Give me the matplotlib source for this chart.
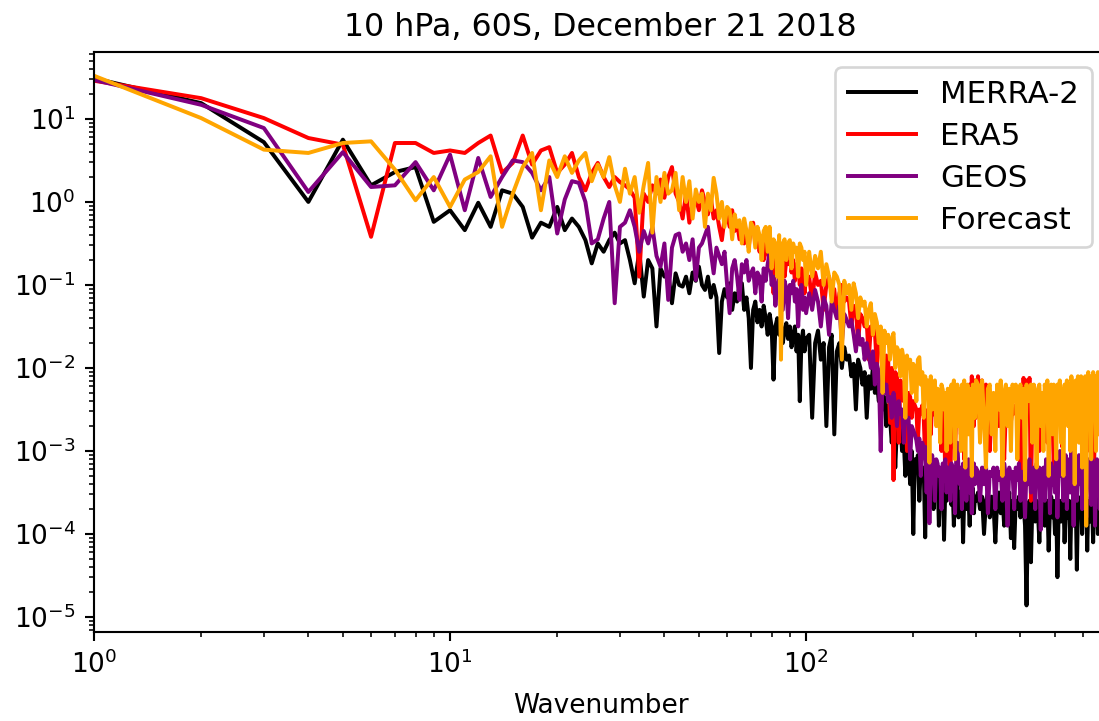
import numpy as np
import matplotlib
matplotlib.use("Agg")
import matplotlib.pyplot as plt

# Zonal wavenumbers: every integer to 100, then every 2nd to 300, then every 4th to 700
wavenumber = np.concatenate([np.arange(1, 101), np.arange(102, 301, 2), np.arange(304, 701, 4)])

# Spectral power, stored as log10 values
merra2_log10 = [
    # k = 1..100
    1.49, 1.19, 0.72, 0.0, 0.75, 0.2, 0.36, 0.42, -0.24, -0.1,
    -0.34, -0.01, -0.3, 0.14, 0.1, -0.06, -0.43, -0.25, -0.3, -0.06,
    -0.34, -0.2, -0.3, -0.46, -0.74, -0.5, -0.6, -0.46, -0.37, -0.5,
    -0.46, -0.7, -0.98, -0.6, -1.14, -0.7, -0.8, -1.5, -0.8, -0.9,
    -0.85, -1.22, -0.86, -1.0, -1.02, -0.9, -1.1, -0.85, -0.95, -0.78,
    -1.0, -1.06, -0.9, -1.15, -1.0, -1.15, -1.82, -1.2, -1.05, -1.15,
    -0.98, -1.3, -1.1, -1.2, -1.0, -0.98, -1.3, -1.15, -1.4, -2.0,
    -1.3, -1.2, -1.45, -1.3, -1.5, -1.25, -1.4, -1.6, -1.35, -1.5,
    -2.14, -1.5, -1.4, -1.6, -1.45, -1.7, -1.55, -1.46, -1.65, -1.5,
    -1.75, -1.6, -1.5, -1.8, -1.6, -2.4, -1.7, -1.55, -1.8, -1.65,
    # k = 102..300
    -1.6, -2.6, -1.7, -1.55, -1.9, -1.7, -2.7, -1.75, -1.6, -2.8,
    -1.8, -1.7, -2.0, -1.75, -1.9, -1.85, -2.1, -1.95, -2.5, -1.9,
    -2.0, -2.2, -2.05, -2.6, -2.1, -2.25, -2.0, -2.3, -2.15, -2.4,
    -2.3, -2.5, -2.35, -2.7, -2.45, -2.6, -2.9, -2.55, -3.2, -2.7,
    -2.8, -2.65, -3.0, -2.85, -3.3, -2.9, -3.05, -3.4, -3.0, -4.0,
    -3.1, -3.2, -3.05, -3.6, -3.15, -3.3, -3.2, -4.04, -3.25, -3.4,
    -3.3, -3.5, -3.25, -3.7, -3.35, -3.45, -3.3, -3.9, -3.4, -3.5,
    -3.35, -4.07, -3.45, -3.6, -3.4, -3.5, -3.4, -3.65, -3.45, -3.9,
    -3.5, -3.55, -3.4, -3.8, -3.5, -3.6, -3.45, -4.1, -3.55, -3.5,
    -3.7, -3.45, -3.6, -3.9, -3.5, -3.65, -3.45, -3.75, -3.55, -3.6,
    # k = 304..700
    -3.5, -3.7, -3.55, -4.0, -3.6, -3.5, -3.8, -3.55, -3.65, -4.1,
    -3.6, -3.5, -3.75, -3.55, -3.9, -3.6, -3.7, -3.5, -4.05, -3.6,
    -4.17, -3.6, -3.7, -3.55, -3.8, -3.6, -3.65, -3.9, -4.86, -3.7,
    -3.6, -4.34, -3.65, -3.55, -3.85, -3.6, -3.75, -4.1, -3.6, -3.7,
    -3.55, -3.9, -3.65, -3.6, -4.2, -3.7, -3.55, -3.8, -3.6, -4.0,
    -3.65, -4.52, -3.7, -3.6, -3.85, -3.65, -3.55, -4.1, -3.7, -3.6,
    -3.8, -3.6, -4.3, -3.65, -3.7, -3.55, -3.9, -3.6, -4.43, -3.7,
    -3.6, -3.75, -3.55, -4.0, -3.65, -3.6, -3.8, -3.55, -4.2, -3.65,
    -3.6, -3.85, -3.55, -3.7, -4.1, -3.6, -3.5, -3.75, -3.6, -4.0,
    -3.55, -3.7, -3.6, -4.3, -3.65, -3.5, -3.8, -3.6, -3.7, -3.55,
]

era5_log10 = [
    # k = 1..100
    1.46, 1.25, 1.01, 0.77, 0.69, -0.42, 0.71, 0.71, 0.59, 0.62,
    0.59, 0.71, 0.8, 0.35, 0.47, 0.8, 0.45, 0.62, 0.66, 0.35,
    0.45, 0.59, 0.3, 0.14, 0.35, 0.47, 0.3, 0.18, 0.3, 0.24,
    0.2, 0.15, 0.05, -0.9, 0.1, 0.0, 0.2, 0.1, 0.27, 0.05,
    0.3, 0.42, 0.1, 0.0, -0.2, 0.1, -0.25, 0.0, 0.05, -0.1,
    0.14, 0.0, -0.15, 0.05, -0.2, -0.1, -0.3, -0.46, -0.2, -0.15,
    -0.3, -0.1, -0.35, -0.25, -0.45, -0.3, -0.5, -0.35, -0.55, -0.3,
    -0.25, -0.5, -0.4, -0.6, -0.45, -0.7, -0.5, -0.6, -0.75, -0.55,
    -1.1, -0.6, -0.7, -0.55, -0.8, -0.65, -0.9, -0.7, -0.75, -0.6,
    -0.85, -0.7, -0.95, -0.75, -0.8, -1.0, -0.8, -0.85, -1.1, -0.9,
    # k = 102..300
    -0.9, -1.2, -0.85, -1.0, -0.95, -1.3, -1.0, -0.9, -1.1, -1.05,
    -1.4, -1.1, -1.0, -1.2, -1.15, -1.2, -1.5, -1.25, -1.3, -1.7,
    -1.35, -1.4, -1.5, -1.45, -1.9, -1.5, -1.6, -1.55, -2.0, -1.7,
    -1.75, -1.8, -2.2, -1.85, -1.9, -2.66, -2.0, -3.35, -2.05, -2.1,
    -2.9, -2.15, -2.2, -2.4, -2.25, -3.0, -2.3, -2.35, -2.6, -2.4,
    -2.45, -2.5, -2.9, -2.5, -2.55, -2.45, -2.6, -3.1, -2.55, -2.5,
    -2.6, -2.8, -2.4, -2.27, -2.55, -2.6, -2.27, -2.7, -2.6, -3.0,
    -2.55, -2.5, -3.35, -2.6, -2.55, -2.6, -3.5, -2.55, -2.6, -2.7,
    -3.0, -2.55, -2.6, -2.65, -2.5, -2.8, -2.55, -2.6, -3.1, -2.5,
    -2.4, -2.3, -2.55, -2.2, -2.6, -2.1, -2.5, -2.7, -2.15, -2.6,
    # k = 304..700
    -2.1, -2.5, -2.15, -2.6, -2.2, -2.55, -3.0, -2.5, -2.6, -2.45,
    -2.5, -2.7, -2.45, -2.55, -3.1, -2.5, -2.6, -2.45, -2.65, -2.5,
    -2.55, -2.45, -2.6, -2.5, -3.4, -2.55, -2.12, -2.4, -2.15, -2.5,
    -2.12, -3.6, -2.5, -2.55, -2.45, -2.6, -2.5, -3.0, -2.55, -2.45,
    -2.6, -2.5, -2.55, -2.9, -2.45, -2.6, -2.5, -2.55, -3.2, -2.5,
    -2.45, -2.6, -2.5, -2.55, -2.45, -2.95, -2.5, -2.6, -2.45, -2.5,
    -2.55, -2.4, -2.6, -3.1, -2.5, -2.45, -2.55, -2.5, -2.6, -2.4,
    -2.5, -2.55, -2.9, -2.45, -2.5, -2.6, -2.4, -2.5, -3.0, -2.45,
    -2.5, -2.4, -2.55, -2.5, -2.45, -3.2, -2.5, -2.4, -2.55, -2.45,
    -2.4, -2.5, -2.45, -2.9, -2.4, -2.5, -2.35, -2.45, -2.5, -2.4,
]

geos_log10 = [
    # k = 1..100
    1.47, 1.17, 0.89, 0.12, 0.6, 0.18, 0.2, 0.48, 0.14, 0.57,
    -0.1, 0.53, 0.06, 0.3, 0.5, 0.48, 0.35, 0.14, 0.3, -0.38,
    0.03, 0.25, 0.23, 0.0, -0.5, -0.45, -0.2, 0.0, -1.22, -0.3,
    -0.25, -0.1, -0.3, -0.6, -0.35, -0.5, -0.3, -0.65, -0.78, -0.5,
    -1.18, -0.55, -0.4, -0.38, -0.6, -0.5, -0.7, -0.45, -0.94, -0.55,
    -0.5, -0.4, -0.3, -0.6, -0.86, -0.55, -0.65, -0.75, -0.6, -1.0,
    -1.34, -0.8, -0.7, -0.9, -1.18, -0.75, -0.85, -0.7, -0.95, -0.86,
    -0.8, -1.1, -0.85, -0.9, -1.2, -0.8, -0.95, -0.75, -0.61, -1.0,
    -0.9, -1.25, -1.0, -0.9, -1.1, -1.3, -0.95, -1.05, -1.4, -1.0,
    -1.1, -0.95, -1.2, -1.05, -1.5, -1.1, -1.0, -1.3, -1.15, -1.34,
    # k = 102..300
    -1.1, -1.3, -1.06, -1.2, -1.5, -1.15, -1.25, -1.6, -1.2, -1.3,
    -1.4, -1.25, -1.7, -1.35, -1.42, -1.5, -1.42, -1.6, -1.8, -1.55,
    -1.72, -1.65, -1.9, -1.7, -1.85, -2.0, -1.8, -2.2, -1.95, -2.05,
    -3.0, -2.1, -2.3, -2.2, -2.4, -2.35, -2.6, -2.3, -2.45, -2.7,
    -2.4, -2.55, -2.5, -2.9, -2.55, -2.65, -2.6, -3.1, -2.7, -2.75,
    -2.8, -2.87, -3.0, -2.85, -3.3, -2.9, -3.0, -2.95, -3.5, -3.0,
    -3.87, -3.1, -3.05, -3.2, -3.6, -3.1, -3.15, -3.3, -3.2, -3.7,
    -3.15, -3.25, -3.1, -3.5, -3.2, -3.2, -3.6, -3.15, -3.3, -3.2,
    -3.75, -3.1, -2.9, -3.25, -3.4, -3.2, -3.7, -3.15, -3.3, -3.2,
    -3.6, -3.25, -3.1, -3.5, -3.2, -3.75, -3.3, -3.15, -3.4, -3.2,
    # k = 304..700
    -3.25, -3.6, -3.2, -3.4, -3.15, -3.75, -3.25, -3.3, -3.2, -3.7,
    -3.2, -3.35, -3.25, -3.6, -3.15, -3.3, -3.9, -3.2, -3.3, -3.25,
    -3.7, -3.2, -3.35, -3.15, -3.6, -3.25, -3.3, -3.8, -3.2, -3.4,
    -3.1, -3.5, -3.25, -3.2, -3.7, -3.15, -3.3, -3.2, -3.95, -3.25,
    -3.2, -3.6, -3.1, -3.3, -3.2, -3.75, -3.15, -3.4, -3.2, -3.5,
    -3.1, -3.8, -3.2, -3.0, -3.3, -3.15, -3.6, -3.2, -3.05, -3.7,
    -3.2, -3.1, -3.5, -3.0, -3.25, -3.9, -3.1, -3.2, -3.6, -3.15,
    -3.05, -3.4, -3.2, -3.7, -3.1, -3.25, -3.15, -3.8, -3.2, -3.1,
    -3.3, -3.2, -3.65, -3.1, -3.25, -3.15, -3.9, -3.2, -3.1, -3.4,
    -3.2, -3.7, -3.15, -3.25, -3.1, -3.6, -3.2, -3.3, -3.15, -3.5,
]

forecast_log10 = [
    # k = 1..100
    1.52, 1.01, 0.63, 0.59, 0.71, 0.73, 0.39, 0.02, 0.3, -0.06,
    0.27, 0.36, 0.55, -0.3, 0.1, 0.42, 0.59, -0.1, 0.5, 0.3,
    0.55, 0.35, 0.5, 0.59, 0.25, 0.45, 0.3, 0.54, 0.2, 0.0,
    0.4, 0.1, 0.3, -0.13, 0.2, 0.47, -0.37, 0.3, 0.0, 0.35,
    0.1, 0.14, 0.35, -0.1, 0.3, 0.0, 0.25, -0.2, 0.15, 0.0,
    0.1, -0.3, 0.1, -0.1, 0.29, 0.1, -0.2, 0.0, -0.3, -0.06,
    -0.1, -0.45, -0.15, -0.3, -0.22, -0.5, -0.2, -0.35, -0.6, -0.25,
    -0.3, -0.55, -0.3, -0.4, -0.7, -0.35, -0.3, -0.6, -0.3, -0.8,
    -0.45, -0.5, -0.9, -0.4, -1.9, -0.5, -0.45, -0.7, -0.5, -0.46,
    -0.8, -0.5, -0.6, -0.55, -0.9, -0.5, -0.55, -0.7, -0.6, -1.0,
    # k = 102..300
    -0.6, -0.9, -0.65, -0.8, -0.6, -1.0, -0.75, -0.9, -1.2, -0.85,
    -0.9, -1.0, -1.9, -0.95, -1.1, -1.0, -1.3, -0.98, -1.1, -1.4,
    -1.15, -1.25, -1.2, -1.5, -1.3, -1.22, -1.6, -1.35, -1.45, -1.7,
    -1.5, -2.3, -1.55, -1.7, -1.6, -1.9, -1.65, -1.58, -2.0, -1.75,
    -1.8, -2.1, -1.78, -1.9, -2.6, -1.85, -2.0, -1.9, -2.3, -1.95,
    -2.0, -2.4, -1.9, -1.87, -2.2, -2.05, -2.6, -2.1, -2.3, -2.15,
    -3.14, -2.1, -2.5, -2.2, -2.15, -2.7, -2.25, -2.3, -2.9, -2.2,
    -2.26, -2.5, -2.3, -3.0, -2.25, -2.3, -2.9, -2.2, -2.5, -2.15,
    -3.1, -2.3, -2.2, -2.7, -2.25, -3.0, -2.2, -2.4, -2.15, -3.2,
    -2.3, -2.2, -2.8, -2.25, -2.4, -3.3, -2.2, -2.3, -2.6, -2.15,
    # k = 304..700
    -2.2, -2.9, -2.15, -2.6, -3.2, -2.25, -2.2, -2.8, -2.3, -3.0,
    -2.2, -2.5, -2.15, -3.3, -2.3, -2.2, -2.7, -2.25, -3.0, -2.2,
    -2.4, -2.2, -3.1, -2.3, -2.2, -2.6, -2.25, -3.35, -2.2, -2.4,
    -2.3, -2.2, -2.9, -2.2, -2.5, -3.2, -2.25, -2.2, -2.7, -2.3,
    -3.0, -2.2, -2.4, -2.15, -3.3, -2.25, -2.2, -2.8, -2.2, -2.5,
    -3.1, -2.2, -2.3, -2.15, -2.9, -2.25, -3.3, -2.2, -2.4, -2.15,
    -2.7, -2.2, -3.0, -2.1, -2.3, -2.2, -3.4, -2.15, -2.5, -2.1,
    -2.9, -2.2, -2.1, -3.2, -2.15, -2.4, -2.1, -3.9, -2.2, -2.05,
    -2.7, -2.1, -3.1, -2.2, -2.05, -2.5, -2.1, -3.0, -2.15, -2.05,
    -2.8, -2.1, -3.6, -2.0, -2.2, -2.9, -2.05, -2.1, -3.0, -2.0,
]

series = [
    ("MERRA-2", merra2_log10, "black"),
    ("ERA5", era5_log10, "red"),
    ("GEOS", geos_log10, "purple"),
    ("Forecast", forecast_log10, "orange"),
]

DPI = 190
fig = plt.figure(figsize=(1099 / DPI, 721 / DPI), dpi=DPI)
ax = fig.add_axes([94 / 1099, 89 / 721, (1107 - 94) / 1099, (632 - 52) / 721])

for label, logvals, color in series:
    ax.plot(wavenumber, 10.0 ** np.asarray(logvals), color=color, label=label)

ax.set_xscale("log")
ax.set_yscale("log")
ax.set_xlim(1, 700)
ax.set_ylim(6.6e-6, 64)
ax.set_xlabel("Wavenumber", fontsize=10, labelpad=5.5)
ax.set_title("10 hPa, 60S, December 21 2018", fontsize=12)
ax.tick_params(labelsize=10)
ax.legend(loc="upper right", fontsize=11.7, labelspacing=0.42, handlelength=2.2)

fig.savefig("out.png", dpi=DPI)
